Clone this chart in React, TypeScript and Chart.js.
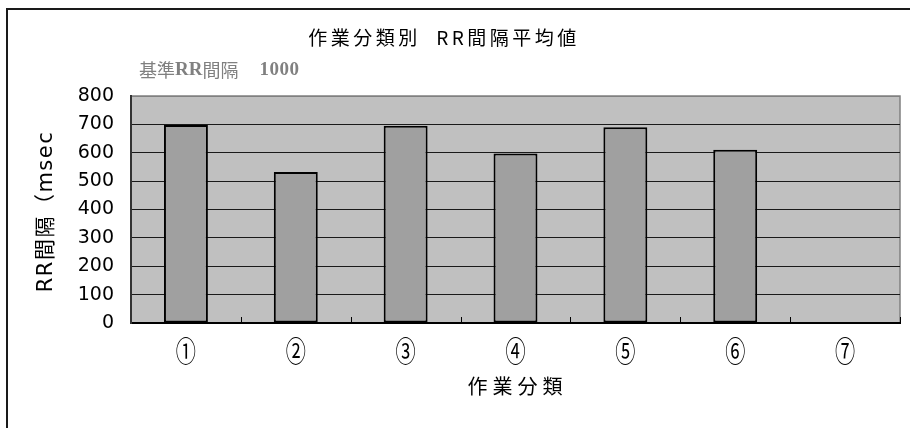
import React, { useEffect, useRef } from "react";
import { Chart, registerables } from "chart.js";

Chart.register(...registerables);

// 作業分類ごとの RR 間隔平均値 (msec)
const categories = ["①", "②", "③", "④", "⑤", "⑥", "⑦"];
const rrMeans: (number | null)[] = [698, 532, 695, 597, 690, 611, null];
const yMin = 0;
const yMax = 800;
const yStep = 100;

const titleText = "作業分類別  RR間隔平均値";
const baseLabelParts = ["基準", "RR", "間隔"];
const baseValue = "1000";
const xTitle = "作業分類";
const yTitle = "RR間隔（msec";

const CJK = '"Noto Sans CJK JP", "DejaVu Sans", sans-serif';
const NUM = '"DejaVu Sans", "Noto Sans CJK JP", sans-serif';
const SERIF = '"Liberation Serif", "DejaVu Serif", serif';

const decor = {
  id: "decor",
  beforeDraw(chart: any) {
    const { ctx, chartArea: a, width, height } = chart;
    ctx.save();
    ctx.fillStyle = "#ffffff";
    ctx.fillRect(0, 0, width, height);
    // plot area
    ctx.fillStyle = "#c0c0c0";
    ctx.fillRect(a.left, a.top, a.right - a.left, a.bottom - a.top);
    ctx.strokeStyle = "#808080";
    ctx.lineWidth = 1.5;
    ctx.strokeRect(a.left, a.top, a.right - a.left, a.bottom - a.top);
    // outer chart frame
    ctx.strokeStyle = "#1a1a1a";
    ctx.lineWidth = 2;
    ctx.strokeRect(7, 9, width + 20, height + 20);
    ctx.restore();
  },
  afterDraw(chart: any) {
    const { ctx, chartArea: a } = chart;
    const xs = chart.scales.x;
    ctx.save();

    // category boundary ticks pointing into the plot
    ctx.strokeStyle = "#000";
    ctx.lineWidth = 1;
    const n = categories.length;
    for (let i = 1; i <= n; i++) {
      const x =
        i < n
          ? (xs.getPixelForValue(i - 1) + xs.getPixelForValue(i)) / 2
          : a.right;
      const px = Math.round(x) + 0.5;
      ctx.beginPath();
      ctx.moveTo(px, a.bottom);
      ctx.lineTo(px, a.bottom - 6);
      ctx.stroke();
    }

    // category labels (narrow circled numerals)
    ctx.fillStyle = "#000";
    ctx.textBaseline = "middle";
    ctx.textAlign = "center";
    ctx.font = `28px ${CJK}`;
    categories.forEach((lab, i) => {
      const x = xs.getPixelForValue(i);
      ctx.save();
      ctx.translate(x, 351);
      ctx.scale(0.72, 1);
      ctx.fillText(lab, 0, 0);
      ctx.restore();
    });

    // chart title
    ctx.font = `19px ${CJK}`;
    (ctx as any).letterSpacing = "3.5px";
    ctx.fillText(titleText, 444, 38);

    // reference interval note
    ctx.textAlign = "left";
    ctx.fillStyle = "#808080";
    let cx = 139;
    const noteY = 70;
    baseLabelParts.forEach((part) => {
      const latin = /^[A-Za-z]+$/.test(part);
      ctx.font = latin ? `bold 19px ${SERIF}` : `18px ${CJK}`;
      (ctx as any).letterSpacing = "0px";
      ctx.fillText(part, cx, noteY);
      cx += ctx.measureText(part).width;
    });
    ctx.font = `bold 19px ${SERIF}`;
    (ctx as any).letterSpacing = "0.5px";
    ctx.fillText(baseValue, cx + 21, noteY);

    // x axis title
    ctx.fillStyle = "#000";
    ctx.textAlign = "center";
    ctx.font = `20px ${CJK}`;
    (ctx as any).letterSpacing = "5px";
    ctx.fillText(xTitle, (a.left + a.right) / 2 + 2, 386);

    // y axis title
    ctx.translate(47, (a.top + a.bottom) / 2 + 2);
    ctx.rotate(-Math.PI / 2);
    ctx.font = `21px ${NUM}`;
    (ctx as any).letterSpacing = "1.5px";
    ctx.fillText(yTitle, 0, 0);

    ctx.restore();
  },
};

export default function App() {
  const ref = useRef<HTMLCanvasElement | null>(null);

  useEffect(() => {
    if (!ref.current) return;
    const chart = new Chart(ref.current, {
      type: "bar",
      data: {
        labels: categories,
        datasets: [
          {
            label: "RR間隔平均値",
            data: rrMeans,
            backgroundColor: "#a0a0a0",
            borderColor: "#000000",
            borderWidth: 2,
            borderSkipped: false,
            categoryPercentage: 1,
            barPercentage: 0.4,
          },
        ],
      },
      options: {
        animation: false,
        responsive: false,
        devicePixelRatio: 1,
        layout: { padding: { top: 96, right: 10, left: 0, bottom: 0 } },
        plugins: {
          legend: { display: false },
          title: { display: false },
          tooltip: { enabled: false },
        },
        scales: {
          x: {
            offset: true,
            grid: { display: false, drawTicks: false },
            border: { display: true, color: "#000000", width: 2 },
            ticks: { display: false },
            afterFit(scale: any) {
              scale.height = 105;
            },
          },
          y: {
            min: yMin,
            max: yMax,
            grid: {
              drawTicks: false,
              color: (c: any) =>
                c.tick && c.tick.value === yMax ? "#808080" : "#1a1a1a",
              lineWidth: 1,
            },
            border: { display: true, color: "#333333", width: 2 },
            ticks: {
              stepSize: yStep,
              padding: 17,
              color: "#000",
              font: { family: NUM, size: 19 },
            },
            afterFit(scale: any) {
              scale.width = 131;
            },
          },
        },
      },
      plugins: [decor],
    });
    return () => chart.destroy();
  }, []);

  return (
    <div
      style={{
        position: "fixed",
        left: 0,
        top: 0,
        width: 910,
        height: 428,
        background: "#fff",
      }}
    >
      <canvas ref={ref} width={910} height={428} style={{ display: "block" }} />
    </div>
  );
}
